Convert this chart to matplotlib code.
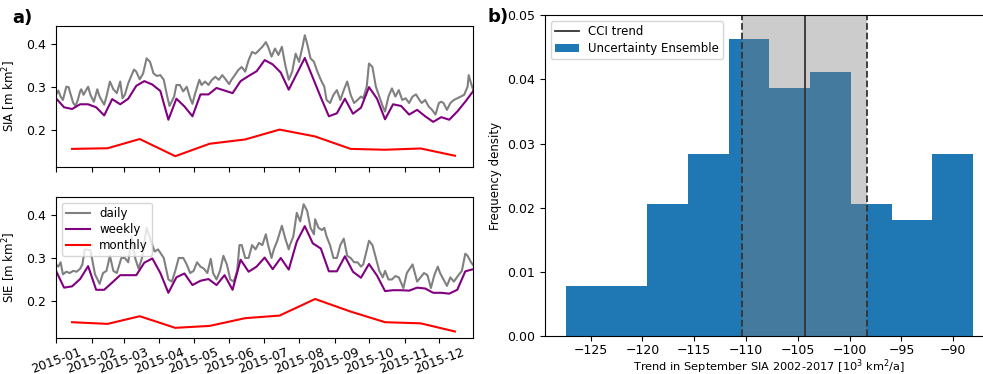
import numpy as np
import pandas as pd
import matplotlib
matplotlib.use("Agg")
import matplotlib.pyplot as plt
import matplotlib.dates as mdates

# ---------------- data (values in 0.001 m km^2) ----------------
# daily series: day-of-year offsets (from 2015-01-01) and values
sia_daily_day = [0, 2, 4, 6, 9, 11, 12, 15, 17, 19, 21, 22, 24, 26, 28, 30, 33, 36, 38, 42,
                 44, 47, 50, 53, 56, 58, 60, 63, 68, 70, 73, 76, 79, 82, 85, 88, 91, 94, 97, 99,
                 103, 105, 108, 111, 114, 117, 119, 121, 125, 127, 130, 133, 136, 139, 142, 145,
                 148, 151, 153, 156, 159, 162, 165, 168, 171, 174, 177, 180, 183, 185, 188, 191,
                 194, 197, 200, 203, 206, 209, 212, 215, 217, 219, 222, 225, 228, 231, 234, 236,
                 239, 242, 245, 248, 251, 254, 257, 260, 263, 266, 268, 271, 273, 276, 279, 282,
                 285, 287, 290, 293, 296, 299, 302, 305, 308, 311, 314, 317, 319, 322, 325, 328,
                 331, 334, 336, 338, 341, 344, 347, 350, 353, 356, 359, 360, 362, 364]
sia_daily = [282, 292, 278, 270, 301, 300, 290, 263, 256, 270, 290, 295, 282, 292, 301, 282, 266, 295, 278, 259,
             278, 313, 295, 286, 313, 274, 282, 309, 341, 336, 318, 332, 367, 359, 332, 326, 328, 317, 278, 256,
             278, 305, 305, 290, 301, 274, 261, 282, 317, 305, 313, 305, 317, 324, 317, 328,
             318, 307, 317, 328, 340, 347, 336, 363, 382, 378, 386, 394, 405, 394, 371, 390,
             375, 394, 351, 317, 336, 378, 359, 394, 421, 402, 367, 359, 336, 317, 301, 270,
             263, 282, 293, 270, 293, 313, 282, 263, 270, 278, 274, 301, 355, 347, 301, 278,
             255, 243, 278, 297, 278, 293, 270, 274, 263, 278, 283, 270, 263, 270, 255, 247,
             236, 263, 266, 263, 247, 263, 270, 274, 278, 282, 301, 328, 309, 293]

sie_daily_day = [0, 2, 4, 6, 9, 12, 15, 18, 21, 23, 25, 30, 34, 38, 41, 44, 47, 50, 53, 57,
                 60, 63, 66, 69, 72, 75, 79, 84, 86, 89, 94, 98, 101, 104, 107, 111, 114, 117, 120, 123,
                 126, 129, 132, 135, 137, 140, 143, 146, 149, 152, 155, 158, 160, 162, 165, 168, 171, 174,
                 177, 180, 183, 185, 188, 190, 193, 197, 200, 203, 204, 207, 210, 213, 216, 219, 222, 225,
                 226, 229, 232, 234, 236, 239, 242, 245, 248, 251, 254, 257, 260, 263, 266, 268, 273, 276,
                 279, 282, 285, 287, 290, 293, 296, 299, 303, 306, 311, 315, 318, 321, 324, 327, 330, 333,
                 335, 338, 341, 344, 347, 351, 354, 357, 359, 362, 364]
sie_daily = [285, 280, 290, 262, 268, 265, 270, 268, 275, 285, 320, 318, 262, 240, 265, 270, 305, 270, 265, 300,
             300, 290, 350, 300, 275, 300, 370, 330, 315, 320, 300, 250, 245, 270, 300, 300, 285, 265, 270, 290,
             280, 275, 265, 298, 265, 250, 270, 305, 285, 250, 245, 270, 330, 330, 300, 300, 330, 320,
             335, 330, 355, 330, 300, 320, 340, 375, 345, 320, 330, 350, 405, 385, 425, 410, 370, 355,
             390, 370, 365, 370, 350, 330, 300, 300, 330, 345, 305, 300, 290, 290, 280, 285, 340, 330,
             300, 270, 255, 270, 250, 250, 258, 255, 230, 265, 285, 245, 255, 265, 260, 230, 260, 280,
             265, 250, 235, 255, 245, 260, 270, 310, 305, 290, 283]

# weekly series (every 7 days from 2015-01-01)
sia_weekly = [274, 253, 249, 260, 260, 253, 234, 272, 260, 273, 303, 314, 306, 291, 224, 273, 255, 232,
              283, 283, 298, 292, 286, 314, 326, 337, 363, 353, 334, 294, 331, 368, 322, 276, 232, 239,
              273, 238, 252, 300, 273, 225, 260, 256, 236, 247, 232, 219, 230, 224, 243, 266, 291]
sie_weekly = [270, 231, 234, 251, 281, 226, 226, 243, 260, 260, 260, 289, 299, 265, 219, 255, 264, 237,
              247, 251, 237, 260, 226, 296, 268, 280, 301, 274, 300, 273, 338, 374, 334, 322, 269, 269,
              304, 268, 254, 286, 259, 223, 225, 225, 224, 231, 229, 219, 219, 217, 226, 269, 274]

# monthly series (mid-month)
sia_monthly = [156, 157.5, 179, 139, 168, 178, 201, 185, 156, 154, 157, 140]
sie_monthly = [150.6, 146.7, 164.5, 137.5, 142, 160, 166, 204.6, 175.3, 150.6, 148, 129]

# histogram (right panel)
hist_edges = [-127.4, -123.47, -119.54, -115.61, -111.68, -107.75, -103.82, -99.89, -95.96, -92.03, -88.1]
hist_density = [0.0077, 0.0077, 0.0206, 0.0284, 0.0463, 0.0386, 0.0412, 0.0206, 0.0180, 0.0283]
cci_trend = -104.35
cci_low = -110.38
cci_high = -98.3

# ---------------- figure ----------------
base = pd.Timestamp("2015-01-01")
def to_dates(days):
    return base + pd.to_timedelta(np.asarray(days), unit="D")

week_dates = pd.date_range("2015-01-01", periods=len(sia_weekly), freq="7D")
month_dates = pd.date_range("2015-01-01", periods=12, freq="MS") + pd.Timedelta(days=14)

fig = plt.figure(figsize=(9.83, 3.74), dpi=100)
ax1 = fig.add_axes([0.057, 0.5543, 0.4245, 0.3762])
ax2 = fig.add_axes([0.057, 0.097, 0.4245, 0.377])
ax3 = fig.add_axes([0.5544, 0.102, 0.4565, 0.857])

fs = 9
for ax, dday, dval, wval, mval, lab in [
        (ax1, sia_daily_day, sia_daily, sia_weekly, sia_monthly, "SIA [m km$^2$]"),
        (ax2, sie_daily_day, sie_daily, sie_weekly, sie_monthly, "SIE [m km$^2$]")]:
    ax.plot(to_dates(dday), np.array(dval) / 1000, color="gray", lw=1.5, label="daily")
    ax.plot(week_dates, np.array(wval) / 1000, color="purple", lw=1.5, label="weekly")
    ax.plot(month_dates, np.array(mval) / 1000, color="red", lw=1.5, label="monthly")
    ax.set_ylim(0.1145, 0.4425)
    ax.set_xlim(pd.Timestamp("2015-01-01"), pd.Timestamp("2015-12-31"))
    ax.set_yticks([0.2, 0.3, 0.4])
    ax.set_ylabel(lab, fontsize=8.5, labelpad=6)
    ax.tick_params(labelsize=fs)
    ax.xaxis.set_major_locator(mdates.MonthLocator())
    ax.xaxis.set_major_formatter(mdates.DateFormatter("%Y-%m"))

ax1.tick_params(labelbottom=False)
for t in ax2.get_xticklabels():
    t.set_rotation(20)
    t.set_ha("center")
ax2.tick_params(axis="x", pad=2)
ax2.legend(loc="upper left", fontsize=8.5, framealpha=0.8, labelspacing=0.25,
           borderpad=0.35)

# right panel
widths = np.diff(hist_edges)
ax3.bar(hist_edges[:-1], hist_density, width=widths, align="edge", color="#1f77b4",
        label="Uncertainty Ensemble")
ax3.axvspan(cci_low, cci_high, color="gray", alpha=0.4, lw=0)
ax3.axvline(cci_trend, color="0.2", lw=1.3, label="CCI trend")
ax3.axvline(cci_low, color="0.2", lw=1.3, ls="--")
ax3.axvline(cci_high, color="0.2", lw=1.3, ls="--")
ax3.set_ylim(0, 0.05)
ax3.set_xlim(-129.4, -86.1)
ax3.set_yticks([0, 0.01, 0.02, 0.03, 0.04, 0.05])
ax3.yaxis.set_major_formatter(matplotlib.ticker.FormatStrFormatter("%.2f"))
ax3.set_xticks([-125, -120, -115, -110, -105, -100, -95, -90])
ax3.tick_params(labelsize=fs)
ax3.tick_params(axis="x", pad=2.5)
ax3.set_ylabel("Frequency density", fontsize=8.5)
ax3.set_xlabel("Trend in September SIA 2002-2017 [10$^3$ km$^2$/a]", fontsize=8.2, labelpad=0.5)
h, l = ax3.get_legend_handles_labels()
order = [l.index("CCI trend"), l.index("Uncertainty Ensemble")]
ax3.legend([h[i] for i in order], [l[i] for i in order], loc="upper left", fontsize=8.5,
           labelspacing=0.3, borderpad=0.35)

fig.text(0.012, 0.952, "a)", fontsize=13, fontweight="bold", va="center")
fig.text(0.496, 0.955, "b)", fontsize=13, fontweight="bold", va="center")

fig.savefig("out.png", dpi=100)
